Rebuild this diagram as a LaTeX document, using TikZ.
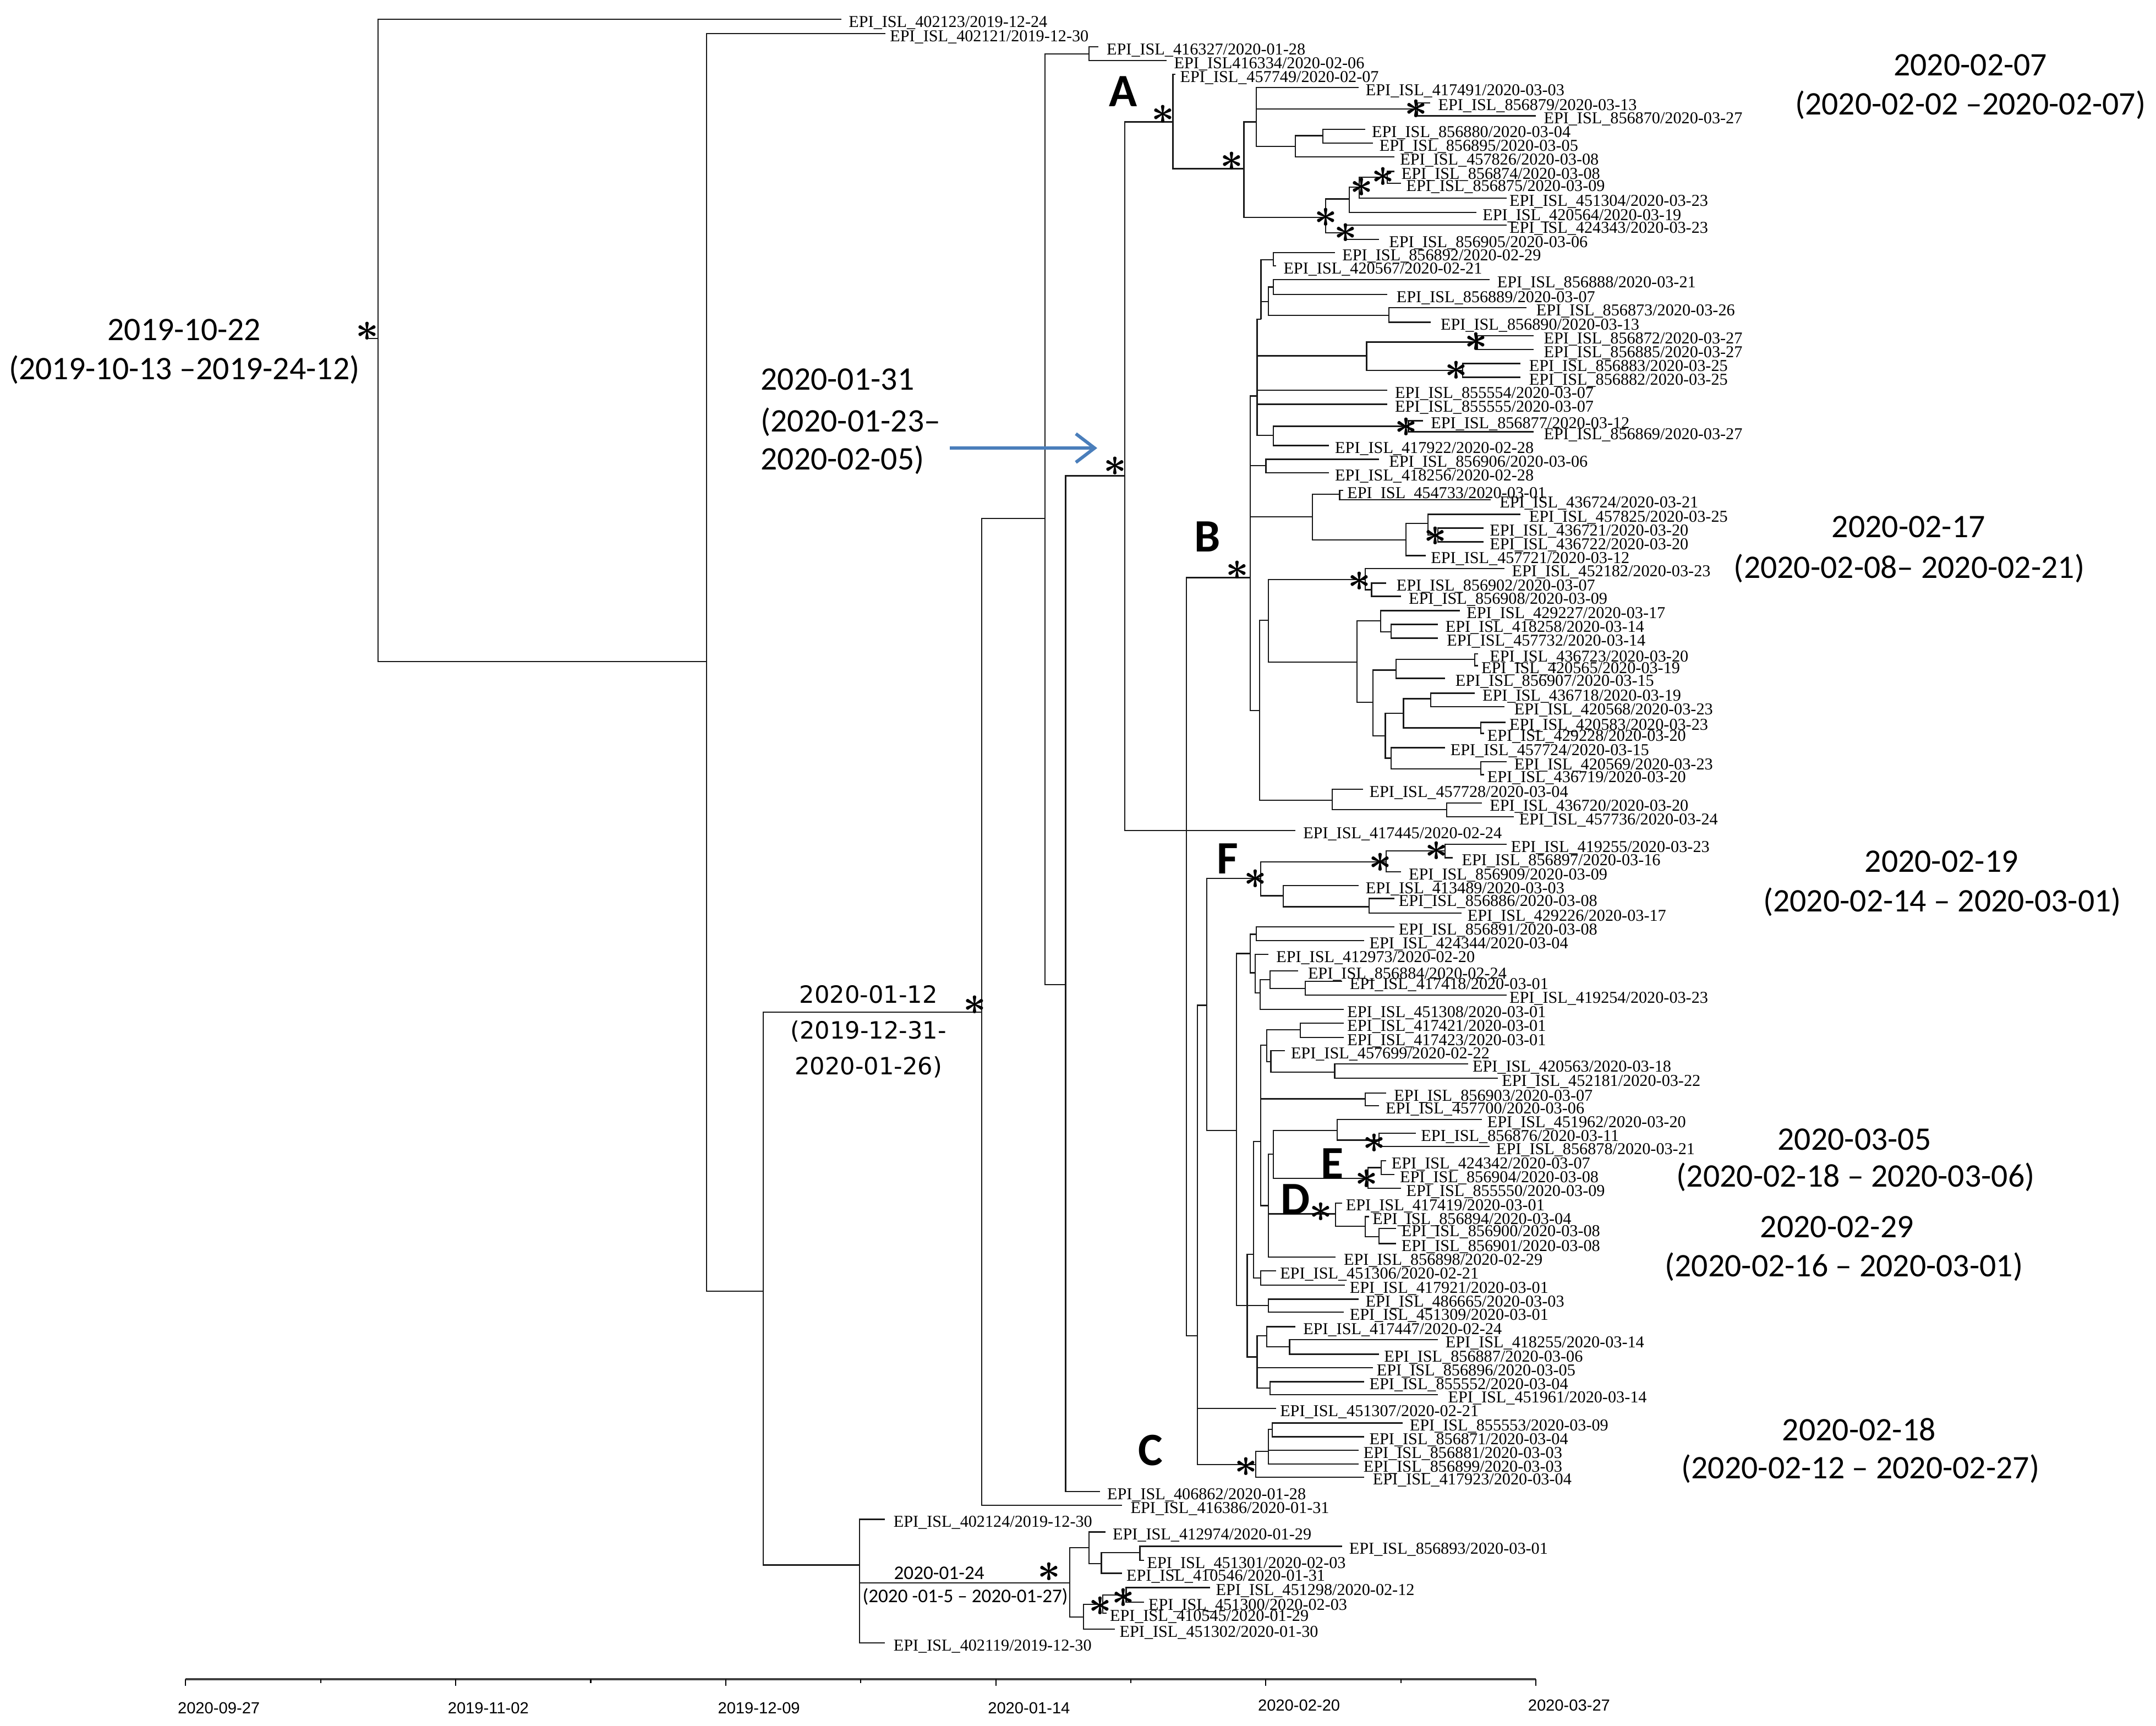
\documentclass[tikz,border=0pt]{standalone}
\usepackage{fontspec}
\setmainfont{Liberation Serif}
\newfontfamily\fcal{Carlito}
\newfontfamily\fdv{DejaVu Sans}
\newfontfamily\fax{Liberation Sans}
\usetikzlibrary{arrows.meta}
\definecolor{arrblue}{RGB}{74,126,187}
\newcommand{\tnode}[4]{\coordinate (#1) at (#3,#4); \draw[br] (#2) |- (#1);}
\newcommand{\tleaf}[6]{\coordinate (#1) at (#3,#4); \draw[br] (#2) |- (#1); \node[lbl] (#1L) at (#5,#4+2.5) {#6};}
\newcommand{\tstar}[3]{\node[astk] (#1) at (#2,#3) {$\ast$};}
\tikzset{
  br/.style={line width=0.65pt, black!90},
  lbl/.style={anchor=west, inner sep=0pt, font=\fontsize{8.6}{9}\selectfont},
  astk/.style={inner sep=0pt, font=\boldmath\fontsize{21}{21}\selectfont},
  big/.style={inner sep=0pt, font=\fcal\fontsize{17}{20}\selectfont},
  mid/.style={inner sep=0pt, font=\fdv\fontsize{12.3}{14}\selectfont},
  small/.style={inner sep=0pt, font=\fcal\fontsize{10}{12}\selectfont},
  clade/.style={inner sep=0pt, font=\fcal\bfseries\fontsize{24}{24}\selectfont},
  axl/.style={anchor=west, inner sep=0pt, font=\fax\fontsize{8.3}{9}\selectfont},
  axisline/.style={line width=1.2pt, black!75},
  arr/.style={arrblue, line width=1.7pt, -{Straight Barb[length=3.4mm,width=5.2mm,line width=1.7pt]}}
}
\begin{document}
\begin{tikzpicture}[x=0.025cm, y=-0.025cm]
\useasboundingbox (0,0) rectangle (1568,1255);

% ---------- backbone ----------
\coordinate (R0) at (275,246);
\coordinate (R0s) at (268,246);
\draw[br] (R0s) -- (R0);
\tleaf{l402123}{R0}{612}{14}{617}{EPI\_ISL\_402123/2019-12-24}
\tnode{N514}{R0}{514}{481}
\tleaf{l402121}{N514}{644}{24.5}{647}{EPI\_ISL\_402121/2019-12-30}
\tnode{N555}{N514}{555}{939}
\tnode{N714}{N555}{714}{736}
\tnode{N760}{N714}{760}{377}
\tnode{N792}{N760}{792}{39.3}
\tleaf{l416327}{N792}{799}{34}{804.6}{EPI\_ISL\_416327/2020-01-28}
\tleaf{l416334}{N792}{848.6}{44}{853.6}{EPI\_ISL416334/2020-02-06}
\tnode{N775}{N760}{775}{716}
\tnode{N818}{N775}{818}{346}
\tleaf{l406862}{N775}{800}{1084.6}{805}{EPI\_ISL\_406862/2020-01-28}
\tleaf{l416386}{N714}{816}{1094.6}{822}{EPI\_ISL\_416386/2020-01-31}

% ---------- bottom early clade ----------
\tnode{N627}{N555}{625}{1138}
\tleaf{l402124}{N627}{643.6}{1104.7}{649.6}{EPI\_ISL\_402124/2019-12-30}
\tleaf{l402119}{N627}{643.6}{1194.7}{649.6}{EPI\_ISL\_402119/2019-12-30}
\tnode{N778}{N627}{778}{1151}
\tnode{N792b}{N778}{792}{1125.3}
\tleaf{l412974}{N792b}{804}{1114}{809}{EPI\_ISL\_412974/2020-01-29}
\tnode{N801}{N792b}{801}{1137}
\tnode{N829}{N801}{829}{1129}
\tleaf{l856893}{N829}{976}{1124.4}{981}{EPI\_ISL\_856893/2020-03-01}
\tleaf{l451301}{N829}{832}{1134.7}{834}{EPI\_ISL\_451301/2020-02-03}
\tleaf{l410546}{N801}{816}{1144}{819}{EPI\_ISL\_410546/2020-01-31}
\tnode{N788}{N778}{788}{1175.7}
\tnode{N802}{N788}{802}{1166.7}
\tnode{N819}{N802}{819}{1159.7}
\tleaf{l451298}{N819}{880}{1154.4}{884}{EPI\_ISL\_451298/2020-02-12}
\tleaf{l451300}{N819}{832}{1165}{835}{EPI\_ISL\_451300/2020-02-03}
\tleaf{l410545}{N802}{805}{1173}{807}{EPI\_ISL\_410545/2020-01-29}
\tleaf{l451302}{N788}{811}{1184.7}{814}{EPI\_ISL\_451302/2020-01-30}

% ---------- clade A ----------
\tnode{NA}{N818}{853}{88.7}
\tleaf{l457749}{NA}{855}{54}{858}{EPI\_ISL\_457749/2020-02-07}
\tnode{N904}{NA}{904.6}{122.7}
\tnode{N913}{N904}{913.6}{88.7}
\tleaf{l417491}{N913}{988}{63.7}{993}{EPI\_ISL\_417491/2020-03-03}
\tnode{N1031}{N913}{1031}{79.3}
\tleaf{l856879}{N1031}{1040}{74.7}{1045.7}{EPI\_ISL\_856879/2020-03-13}
\tleaf{l856870}{N1031}{1117}{84.3}{1122.5}{EPI\_ISL\_856870/2020-03-27}
\tnode{N942}{N913}{942}{106.4}
\tnode{N962}{N942}{962}{98.7}
\tleaf{l856880}{N962}{993}{94}{997.5}{EPI\_ISL\_856880/2020-03-04}
\tleaf{l856895}{N962}{998.6}{104}{1003}{EPI\_ISL\_856895/2020-03-05}
\tleaf{l457826}{N942}{1014}{114}{1018}{EPI\_ISL\_457826/2020-03-08}
\tnode{N964}{N904}{964}{158}
\tnode{N981}{N964}{981.4}{144.7}
\tnode{N989}{N981}{988.6}{136}
\tnode{N1009}{N989}{1009}{129}
\tleaf{l856874}{N1009}{1014}{124.7}{1019}{EPI\_ISL\_856874/2020-03-08}
\tleaf{l856875}{N1009}{1019}{133.3}{1022.5}{EPI\_ISL\_856875/2020-03-09}
\tleaf{l451304}{N989}{1095.7}{144}{1097.5}{EPI\_ISL\_451304/2020-03-23}
\tleaf{l420564}{N981}{1073.6}{154.4}{1078}{EPI\_ISL\_420564/2020-03-19}
\tnode{N978}{N964}{978}{169.3}
\tleaf{l424343}{N978}{1095.7}{163.7}{1097.5}{EPI\_ISL\_424343/2020-03-23}
\tleaf{l856905}{N978}{1003}{174}{1010}{EPI\_ISL\_856905/2020-03-06}

% ---------- clade B ----------
\tnode{N863}{N818}{862.9}{604}
\tnode{NB}{N863}{909.3}{420}
\tnode{N914}{NB}{914.3}{288}
\tnode{N917}{N914}{917.1}{232}
\tnode{N926}{N917}{926}{189}
\tleaf{l856892}{N926}{970.7}{183.6}{976}{EPI\_ISL\_856892/2020-02-29}
\tleaf{l420567}{N926}{928}{193.3}{933.2}{EPI\_ISL\_420567/2020-02-21}
\tnode{N922}{N917}{922.5}{219.3}
\tnode{N926b}{N922}{926}{208.7}
\tleaf{l856888}{N926b}{1083.2}{203.3}{1088.6}{EPI\_ISL\_856888/2020-03-21}
\tleaf{l856889}{N926b}{1009}{214}{1015.4}{EPI\_ISL\_856889/2020-03-07}
\tnode{N1010}{N922}{1010}{229.3}
\tleaf{l856873}{N1010}{1110}{223.7}{1117}{EPI\_ISL\_856873/2020-03-26}
\tleaf{l856890}{N1010}{1040.4}{234.3}{1047.5}{EPI\_ISL\_856890/2020-03-13}
\tnode{N994}{N914}{993.9}{258.7}
\tnode{N1074}{N994}{1074.3}{248.7}
\tleaf{l856872}{N1074}{1115.4}{244}{1122.5}{EPI\_ISL\_856872/2020-03-27}
\tleaf{l856885}{N1074}{1115.4}{254}{1122.5}{EPI\_ISL\_856885/2020-03-27}
\tnode{N1064}{N994}{1063.6}{269.3}
\tleaf{l856883}{N1064}{1105.7}{264.3}{1111.8}{EPI\_ISL\_856883/2020-03-25}
\tleaf{l856882}{N1064}{1105.7}{274.3}{1111.8}{EPI\_ISL\_856882/2020-03-25}
\tleaf{l855554}{N914}{1009}{283.7}{1014.3}{EPI\_ISL\_855554/2020-03-07}
\tleaf{l855555}{N914}{1009}{294}{1014.3}{EPI\_ISL\_855555/2020-03-07}
\tnode{N926c}{N914}{926}{316.7}
\tnode{N1024}{N926c}{1024.3}{310}
\tleaf{l856877}{N1024}{1035}{306}{1040.4}{EPI\_ISL\_856877/2020-03-12}
\tleaf{l856869}{N1024}{1115.4}{314}{1122.5}{EPI\_ISL\_856869/2020-03-27}
\tleaf{l417922}{N926c}{966.4}{324}{970.7}{EPI\_ISL\_417922/2020-02-28}
\tnode{N920}{NB}{920.7}{338.7}
\tleaf{l856906}{N920}{1002.9}{334}{1010}{EPI\_ISL\_856906/2020-03-06}
\tleaf{l418256}{N920}{966.4}{343.7}{970.7}{EPI\_ISL\_418256/2020-02-28}
\tnode{N954}{NB}{954.6}{375.7}
\tnode{N974}{N954}{974.3}{359.3}
\tleaf{l454733}{N974}{977}{356.5}{979.6}{EPI\_ISL\_454733/2020-03-01}
\tleaf{l436724}{N974}{1084.3}{363.3}{1090.4}{EPI\_ISL\_436724/2020-03-21}
\tnode{N1022}{N954}{1022.5}{392.7}
\tnode{N1039}{N1022}{1038.6}{380.7}
\tleaf{l457825}{N1039}{1105.7}{374}{1111.8}{EPI\_ISL\_457825/2020-03-25}
\tnode{N1046}{N1039}{1045.7}{389}
\tleaf{l436721}{N1046}{1079}{384}{1083.2}{EPI\_ISL\_436721/2020-03-20}
\tleaf{l436722}{N1046}{1079}{394}{1083.2}{EPI\_ISL\_436722/2020-03-20}
\tleaf{l457721}{N1022}{1036.8}{404}{1040.4}{EPI\_ISL\_457721/2020-03-12}
\tnode{N916}{NB}{916}{516.7}
\tnode{N922c}{N916}{922.5}{451}
\tnode{N995}{N922c}{993}{421.3}
\tleaf{l452182}{N995}{1094}{413.3}{1099.3}{EPI\_ISL\_452182/2020-03-23}
\tnode{N997}{N995}{997.5}{428.8}
\tleaf{l856902}{N997}{1008}{424}{1015.4}{EPI\_ISL\_856902/2020-03-07}
\tleaf{l856908}{N997}{1019}{433.6}{1024.3}{EPI\_ISL\_856908/2020-03-09}
\tnode{N987}{N922c}{986.8}{481.3}
\tnode{N1004}{N987}{1004}{451.3}
\tleaf{l429227}{N1004}{1061.8}{444}{1066.4}{EPI\_ISL\_429227/2020-03-17}
\tnode{N1012}{N1004}{1011.8}{459.3}
\tleaf{l418258}{N1012}{1045.7}{454}{1051}{EPI\_ISL\_418258/2020-03-14}
\tleaf{l457732}{N1012}{1045.7}{464}{1052}{EPI\_ISL\_457732/2020-03-14}
\tnode{N999}{N987}{998.6}{510.7}
\tnode{N1015}{N999}{1015.4}{487.3}
\tnode{N1072}{N1015}{1072.5}{479.3}
\tleaf{l436723}{N1072}{1075}{475.5}{1083.2}{EPI\_ISL\_436723/2020-03-20}
\tleaf{l420565}{N1072}{1075}{484}{1077.1}{EPI\_ISL\_420565/2020-03-19}
\tleaf{l856907}{N1015}{1051}{493.3}{1058.2}{EPI\_ISL\_856907/2020-03-15}
\tnode{N1007}{N999}{1007.5}{535}
\tnode{N1021}{N1007}{1020.7}{518.7}
\tnode{N1040}{N1021}{1040.4}{508}
\tleaf{l436718}{N1040}{1072.5}{504}{1077.9}{EPI\_ISL\_436718/2020-03-19}
\tleaf{l420568}{N1040}{1094}{514}{1101}{EPI\_ISL\_420568/2020-03-23}
\tnode{N1077}{N1021}{1077}{529.3}
\tleaf{l420583}{N1077}{1095}{525.3}{1097.5}{EPI\_ISL\_420583/2020-03-23}
\tleaf{l429228}{N1077}{1079.5}{533.3}{1081.4}{EPI\_ISL\_429228/2020-03-20}
\tnode{N1012b}{N1007}{1011.8}{551.3}
\tleaf{l457724}{N1012b}{1051}{543.7}{1054.6}{EPI\_ISL\_457724/2020-03-15}
\tnode{N1077b}{N1012b}{1077}{559}
\tleaf{l420569}{N1077b}{1095.7}{554}{1101}{EPI\_ISL\_420569/2020-03-23}
\tleaf{l436719}{N1077b}{1079.5}{563.3}{1081.4}{EPI\_ISL\_436719/2020-03-20}
\tnode{N969}{N916}{969}{582}
\tleaf{l457728}{N969}{991.4}{574}{995.7}{EPI\_ISL\_457728/2020-03-04}
\tnode{N1052}{N969}{1052}{588.7}
\tleaf{l436720}{N1052}{1077.9}{584}{1083.2}{EPI\_ISL\_436720/2020-03-20}
\tleaf{l457736}{N1052}{1101}{594}{1104.6}{EPI\_ISL\_457736/2020-03-24}

\tleaf{l417445}{N863}{942}{604}{947.5}{EPI\_ISL\_417445/2020-02-24}

% ---------- clades F, D, E, C ----------
\tnode{N870}{N863}{870.7}{971.3}
\tnode{N877}{N870}{877.6}{731}
\tnode{NF}{N877}{917}{638.7}
\tnode{NF1}{NF}{1008.2}{626.7}
\tnode{NF3}{NF1}{1051}{618.7}
\tleaf{l419255}{NF3}{1095.7}{614}{1098.6}{EPI\_ISL\_419255/2020-03-23}
\tleaf{l856897}{NF3}{1056.4}{623.7}{1062.9}{EPI\_ISL\_856897/2020-03-16}
\tleaf{l856909}{NF1}{1019}{634}{1024.3}{EPI\_ISL\_856909/2020-03-09}
\tnode{NF2}{NF}{933.2}{651.3}
\tleaf{l413489}{NF2}{988}{644}{993}{EPI\_ISL\_413489/2020-03-03}
\tnode{NF4}{NF2}{995.7}{659.3}
\tleaf{l856886}{NF4}{1014.3}{653.3}{1017}{EPI\_ISL\_856886/2020-03-08}
\tleaf{l429226}{NF4}{1062.9}{664}{1067}{EPI\_ISL\_429226/2020-03-17}

\tnode{N899}{N877}{899.3}{822}
\tnode{P1}{N899}{909.3}{693.3}
\tnode{Q1}{P1}{913.6}{679.3}
\tleaf{l856891}{Q1}{1014.3}{674}{1017}{EPI\_ISL\_856891/2020-03-08}
\tleaf{l424344}{Q1}{992}{684}{995.7}{EPI\_ISL\_424344/2020-03-04}
\tnode{Q2}{P1}{912.9}{707.3}
\tleaf{l412973}{Q2}{922.5}{694}{927.9}{EPI\_ISL\_412973/2020-02-20}
\tnode{Q3}{Q2}{916.4}{722}
\tnode{R1}{Q3}{923.6}{712.4}
\tleaf{l856884}{R1}{944}{706}{951}{EPI\_ISL\_856884/2020-02-24}
\tnode{S1}{R1}{949.3}{718.7}
\tleaf{l417418}{S1}{976}{713.6}{981.4}{EPI\_ISL\_417418/2020-03-01}
\tleaf{l419254}{S1}{1095.7}{723.7}{1097.5}{EPI\_ISL\_419254/2020-03-23}
\tleaf{l451308}{Q3}{977.1}{734}{979.6}{EPI\_ISL\_451308/2020-03-01}

\tnode{N907}{N899}{907}{949.3}
\tnode{A1}{N907}{911.8}{912}
\tnode{T0}{A1}{917}{830}
\tnode{T1}{T0}{921.4}{760}
\tnode{N946}{T1}{945.7}{748.7}
\tleaf{l417421}{N946}{977.1}{744}{979.6}{EPI\_ISL\_417421/2020-03-01}
\tleaf{l417423}{N946}{977.1}{754.4}{979.6}{EPI\_ISL\_417423/2020-03-01}
\tnode{U1}{T1}{924.3}{772}
\tleaf{l457699}{U1}{934.3}{764}{938.6}{EPI\_ISL\_457699/2020-02-22}
\tnode{N971}{U1}{970.7}{779.7}
\tleaf{l420563}{N971}{1067.9}{773.6}{1070.7}{EPI\_ISL\_420563/2020-03-18}
\tleaf{l452181}{N971}{1089.3}{784}{1092}{EPI\_ISL\_452181/2020-03-22}
\tnode{N993}{T0}{992.9}{799}
\tleaf{l856903}{N993}{1008.2}{794.7}{1013.6}{EPI\_ISL\_856903/2020-03-07}
\tleaf{l457700}{N993}{1002.9}{804}{1007.5}{EPI\_ISL\_457700/2020-03-06}
\tnode{N922e}{T0}{922.5}{876.6}
\tnode{N926e}{N922e}{926}{839.3}
\tnode{N972}{N926e}{972.5}{822}
\tleaf{l451962}{N972}{1077.9}{814}{1081.4}{EPI\_ISL\_451962/2020-03-20}
\tnode{N1003}{N972}{1002.9}{829}
\tleaf{l856876}{N1003}{1029.6}{824}{1033.2}{EPI\_ISL\_856876/2020-03-11}
\tleaf{l856878}{N1003}{1083.2}{833.6}{1087.9}{EPI\_ISL\_856878/2020-03-21}
\tnode{NE}{N926e}{995}{856.7}
\tnode{N1005}{NE}{1004.6}{849}
\tleaf{l424342}{N1005}{1008}{844}{1011.8}{EPI\_ISL\_424342/2020-03-07}
\tleaf{l856904}{N1005}{1014.3}{854}{1017.9}{EPI\_ISL\_856904/2020-03-08}
\tleaf{l855550}{NE}{1019}{864}{1022.5}{EPI\_ISL\_855550/2020-03-09}
\tnode{ND}{N922e}{971.4}{882.7}
\tleaf{l417419}{ND}{976}{874.7}{978.6}{EPI\_ISL\_417419/2020-03-01}
\tnode{N993b}{ND}{992.9}{891.7}
\tleaf{l856894}{N993b}{995.7}{884.7}{998}{EPI\_ISL\_856894/2020-03-04}
\tnode{N1003b}{N993b}{1002.9}{899.3}
\tleaf{l856900}{N1003b}{1015.4}{893.3}{1019}{EPI\_ISL\_856900/2020-03-08}
\tleaf{l856901}{N1003b}{1015.4}{904.3}{1019}{EPI\_ISL\_856901/2020-03-08}
\tleaf{l856898}{N922e}{971.4}{914}{977.1}{EPI\_ISL\_856898/2020-02-29}
\tnode{G1}{A1}{917}{929.3}
\tleaf{l451306}{G1}{927.9}{924}{930.7}{EPI\_ISL\_451306/2020-02-21}
\tleaf{l417921}{G1}{977.9}{934.4}{981.4}{EPI\_ISL\_417921/2020-03-01}
\tnode{B1}{N907}{922.5}{949.3}
\tleaf{l486665}{B1}{987.9}{944.7}{992.9}{EPI\_ISL\_486665/2020-03-03}
\tleaf{l451309}{B1}{977.1}{954}{981.4}{EPI\_ISL\_451309/2020-03-01}
\tnode{C1}{N907}{914.3}{986.7}
\tnode{D1}{C1}{921.4}{971.3}
\tleaf{l417447}{D1}{942}{964.7}{947.5}{EPI\_ISL\_417447/2020-02-24}
\tnode{D2}{D1}{937.9}{979.3}
\tleaf{l418255}{D2}{1045.7}{974}{1051}{EPI\_ISL\_418255/2020-03-14}
\tleaf{l856887}{D2}{1002.9}{984.7}{1006.4}{EPI\_ISL\_856887/2020-03-06}
\tleaf{l856896}{C1}{998.6}{994.4}{1001}{EPI\_ISL\_856896/2020-03-05}
\tnode{E1}{C1}{923.6}{1009.3}
\tleaf{l855552}{E1}{992.1}{1004.7}{995.7}{EPI\_ISL\_855552/2020-03-04}
\tleaf{l451961}{E1}{1045.7}{1014}{1052.9}{EPI\_ISL\_451961/2020-03-14}

\tleaf{l451307}{N870}{927.9}{1024}{930.7}{EPI\_ISL\_451307/2020-02-21}
\tnode{NC}{N870}{913.3}{1065}
\tnode{N922d}{NC}{922.5}{1055.3}
\tnode{N925}{N922d}{925.4}{1039.3}
\tleaf{l855553}{N925}{1020}{1034.7}{1025}{EPI\_ISL\_855553/2020-03-09}
\tleaf{l856871}{N925}{992}{1044.7}{995.7}{EPI\_ISL\_856871/2020-03-04}
\tleaf{l856881}{N922d}{987.9}{1054.4}{991.4}{EPI\_ISL\_856881/2020-03-03}
\tleaf{l856899}{N922d}{987.9}{1064.5}{991.4}{EPI\_ISL\_856899/2020-03-03}
\tleaf{l417923}{NC}{992.2}{1074}{998.2}{EPI\_ISL\_417923/2020-03-04}

% ---------- support stars ----------
\tstar{s1}{267}{241}
\tstar{s2}{811}{339}
\tstar{s3}{709}{731}
\tstar{s4}{763}{1143}
\tstar{s5}{817}{1162}
\tstar{s6}{800}{1168}
\tstar{s7}{845.7}{83.3}
\tstar{s8}{1030}{79.3}
\tstar{s9}{895.7}{117.3}
\tstar{s10}{1005.7}{128.7}
\tstar{s11}{990.4}{136}
\tstar{s12}{964.3}{158}
\tstar{s13}{978.6}{169.3}
\tstar{s14}{1073.6}{248.7}
\tstar{s15}{1059.3}{269.3}
\tstar{s16}{1022.5}{310.7}
\tstar{s17}{900}{414.7}
\tstar{s18}{1044}{390}
\tstar{s19}{988.6}{422.7}
\tstar{s20}{912.9}{639.3}
\tstar{s21}{1004}{627.3}
\tstar{s22}{1044.6}{618.7}
\tstar{s23}{999.3}{831.3}
\tstar{s24}{994}{857.3}
\tstar{s25}{960.7}{881.3}
\tstar{s26}{906.4}{1066.7}

% ---------- clade letters ----------
\node[clade] (cA) at (817,66.3) {A};
\node[clade] (cB) at (878,390.3) {B};
\node[clade] (cC) at (836.8,1054.7) {C};
\node[clade] (cD) at (942,872.3) {D};
\node[clade] (cE) at (969,846) {E};
\node[clade] (cF) at (892.9,624.3) {F};

% ---------- date annotations ----------
\node[big] (d1a) at (134,240) {2019-10-22};
\node[big] (d1b) at (134,269) {(2019-10-13 –2019-24-12)};
\node[big, anchor=west] (d2a) at (553,275.8) {2020-01-31};
\node[big, anchor=west] (d2b) at (553,306.8) {(2020-01-23–};
\node[big, anchor=west] (d2c) at (553,334.3) {2020-02-05)};
\coordinate (aS) at (690.8,325.8);
\coordinate (aE) at (798,325.8);
\draw[arr] (aS) -- (aE);
\node[mid] (d3a) at (631.6,723) {2020-01-12};
\node[mid] (d3b) at (631.6,750) {(2019-12-31-};
\node[mid] (d3c) at (631.6,776) {2020-01-26)};
\node[small] (d4a) at (683,1144) {2020-01-24};
\node[small] (d4b) at (702,1161) {(2020 -01-5 – 2020-01-27)};
\node[big] (d5a) at (1433,47.4) {2020-02-07};
\node[big] (d5b) at (1433,76.5) {(2020-02-02 –2020-02-07)};
\node[big] (d6a) at (1388,383) {2020-02-17};
\node[big] (d6b) at (1388.5,413.3) {(2020-02-08– 2020-02-21)};
\node[big] (d7a) at (1412,626.5) {2020-02-19};
\node[big] (d7b) at (1412.5,656) {(2020-02-14 – 2020-03-01)};
\node[big] (d8a) at (1348.7,828.5) {2020-03-05};
\node[big] (d8b) at (1349.5,856) {(2020-02-18 – 2020-03-06)};
\node[big] (d9a) at (1336,892) {2020-02-29};
\node[big] (d9b) at (1341,921) {(2020-02-16 – 2020-03-01)};
\node[big] (d10a) at (1352,1039.5) {2020-02-18};
\node[big] (d10b) at (1353,1068) {(2020-02-12 – 2020-02-27)};

% ---------- time axis ----------
\coordinate (ax0) at (135,1221);
\coordinate (ax1) at (1117,1221);
\draw[axisline] (ax0) -- (ax1);
\foreach \i in {0,...,10} {
  \pgfmathsetmacro{\tx}{135+98.2*\i}
  \coordinate (tk\i) at (\tx,1221);
  \pgfmathparse{int(mod(\i,2))}
  \ifnum\pgfmathresult=0
    \draw[line width=0.6pt] (tk\i) -- ++(0,5);
  \else
    \draw[line width=0.6pt] (tk\i) -- ++(0,3);
  \fi
}
\node[axl] (x0) at (129,1242) {2020-09-27};
\node[axl] (x1) at (325.4,1242) {2019-11-02};
\node[axl] (x2) at (521.8,1242) {2019-12-09};
\node[axl] (x3) at (718.2,1242) {2020-01-14};
\node[axl] (x4) at (914.6,1240) {2020-02-20};
\node[axl] (x5) at (1111,1240) {2020-03-27};
\end{tikzpicture}
\end{document}
